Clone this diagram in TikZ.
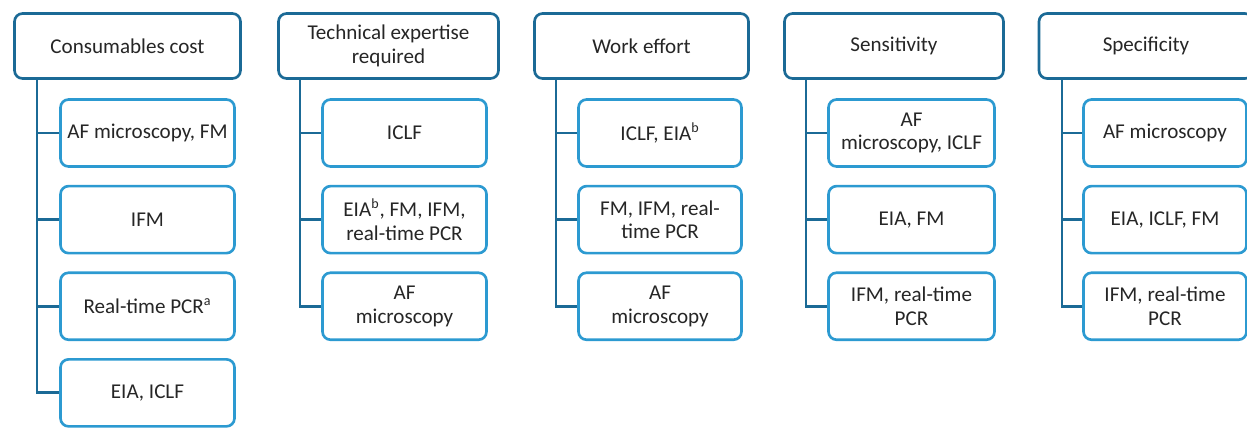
\documentclass[tikz,border=0pt]{standalone}
\usepackage{fontspec}
\setmainfont{Carlito}
\usepackage{tikz}
\usetikzlibrary{positioning}
\definecolor{headblue}{HTML}{1B6A96}
\definecolor{itemblue}{HTML}{2C9AD1}
\definecolor{txtgray}{HTML}{262626}
\tikzstyle{head} = [rectangle, rounded corners=0.16cm, 
minimum height=1.3cm,
align=center, 
inner sep=2pt,
text=txtgray,
font=\fontsize{12}{13.5}\selectfont,
line width=1.5pt,
draw=headblue, 
fill=white]
\tikzstyle{item} = [rectangle, rounded corners=0.16cm, 
minimum height=1.34cm,
align=center, 
inner sep=2pt,
text=txtgray,
font=\fontsize{12}{13.5}\selectfont,
line width=1.5pt,
draw=itemblue, 
fill=white]
\tikzstyle{link} = [line width=1.6pt, draw=headblue]

\begin{document}
\begin{tikzpicture}[x=0.02cm, y=-0.02cm, node distance=0.34cm]
\useasboundingbox (0,0) rectangle (1247,427);

% Consumables cost
\node (h1) [head, minimum width=4.52cm] at (127.5,46) {Consumables cost};
\node (c11) [item, minimum width=3.48cm] at (147.5,133) {AF microscopy, FM};
\node (c12) [item, minimum width=3.48cm, below=of c11] {IFM};
\node (c13) [item, minimum width=3.48cm, below=of c12] {Real-time PCR\textsuperscript{a}};
\node (c14) [item, minimum width=3.48cm, below=of c13] {EIA, ICLF};
\coordinate (s1) at (37,80);

% Technical expertise required
\node (h2) [head, minimum width=4.4cm] at (388.5,46) {Technical expertise\\required};
\node (c21) [item, minimum width=3.28cm] at (404.5,133) {ICLF};
\node (c22) [item, minimum width=3.28cm, below=of c21] {EIA\textsuperscript{b}, FM, IFM,\\real-time PCR};
\node (c23) [item, minimum width=3.28cm, below=of c22] {AF\\microscopy};
\coordinate (s2) at (300,80);

% Work effort
\node (h3) [head, minimum width=4.28cm] at (641.5,46) {Work effort};
\node (c31) [item, minimum width=3.26cm] at (660,133) {ICLF, EIA\textsuperscript{b}};
\node (c32) [item, minimum width=3.26cm, below=of c31] {FM, IFM, real-\\time PCR};
\node (c33) [item, minimum width=3.26cm, below=of c32] {AF\\microscopy};
\coordinate (s3) at (556,80);

% Sensitivity
\node (h4) [head, minimum width=4.38cm] at (894,46) {Sensitivity};
\node (c41) [item, minimum width=3.32cm] at (911.5,133) {AF\\microscopy, ICLF};
\node (c42) [item, minimum width=3.32cm, below=of c41] {EIA, FM};
\node (c43) [item, minimum width=3.32cm, below=of c42] {IFM, real-time\\PCR};
\coordinate (s4) at (806,80);

% Specificity
\node (h5) [head, minimum width=4.28cm] at (1146,46) {Specificity};
\node (c51) [item, minimum width=3.26cm] at (1165,133) {AF microscopy};
\node (c52) [item, minimum width=3.26cm, below=of c51] {EIA, ICLF, FM};
\node (c53) [item, minimum width=3.26cm, below=of c52] {IFM, real-time\\PCR};
\coordinate (s5) at (1062,80);

\draw [link] (s1) |- (c11.west);
\draw [link] (s1) |- (c12.west);
\draw [link] (s1) |- (c13.west);
\draw [link] (s1) |- (c14.west);
\draw [link] (s2) |- (c21.west);
\draw [link] (s2) |- (c22.west);
\draw [link] (s2) |- (c23.west);
\draw [link] (s3) |- (c31.west);
\draw [link] (s3) |- (c32.west);
\draw [link] (s3) |- (c33.west);
\draw [link] (s4) |- (c41.west);
\draw [link] (s4) |- (c42.west);
\draw [link] (s4) |- (c43.west);
\draw [link] (s5) |- (c51.west);
\draw [link] (s5) |- (c52.west);
\draw [link] (s5) |- (c53.west);

\end{tikzpicture}
\end{document}
